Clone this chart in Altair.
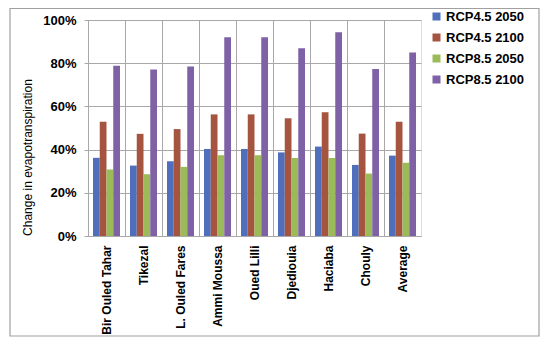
import altair as alt
import pandas as pd

categories = ["Bir Ouled Tahar", "Tikezal", "L. Ouled Fares", "Ammi Moussa",
              "Oued Lilli", "Djediouia", "Haciaba", "Chouly", "Average"]
series_names = ["RCP4.5 2050", "RCP4.5 2100", "RCP8.5 2050", "RCP8.5 2100"]
rcp45_2050 = [36.2, 32.6, 34.6, 40.3, 40.3, 38.7, 41.4, 32.9, 37.2]
rcp45_2100 = [52.9, 47.3, 49.5, 56.3, 56.3, 54.5, 57.3, 47.4, 52.9]
rcp85_2050 = [30.8, 28.6, 32.0, 37.4, 37.4, 36.1, 36.1, 28.9, 33.9]
rcp85_2100 = [78.8, 77.1, 78.5, 92.0, 92.0, 86.9, 94.3, 77.3, 85.0]
y_ticks = [0, 20, 40, 60, 80, 100]
colors = ["#4F6FBD", "#A5553F", "#9BBB59", "#7F62A6"]

rows = []
for s, vals in zip(series_names, [rcp45_2050, rcp45_2100, rcp85_2050, rcp85_2100]):
    for c, v in zip(categories, vals):
        rows.append({"site": c, "series": s, "value": v})
df = pd.DataFrame(rows)

FONT = "Liberation Sans"
GRID = "#a8a8a8"

bars = alt.Chart(df).mark_bar().encode(
    x=alt.X("site:N", sort=categories,
            scale=alt.Scale(paddingInner=0, paddingOuter=0),
            axis=alt.Axis(title=None, labelAngle=-90, labelAlign="right",
                          labelBaseline="middle", labelPadding=9, ticks=False,
                          grid=True, bandPosition=0, gridColor=GRID,
                          domainColor=GRID, labelFont=FONT, labelFontSize=12,
                          labelFontWeight="bold", labelColor="#000",
                          labelLimit=200)),
    xOffset=alt.XOffset("series:N", sort=series_names,
                        scale=alt.Scale(paddingOuter=0.74, paddingInner=0)),
    y=alt.Y("value:Q", scale=alt.Scale(domain=[0, 100]),
            axis=alt.Axis(title="Change in evapotranspiration", values=y_ticks,
                          labelExpr="datum.value + '%'", tickSize=4,
                          tickColor=GRID, domainColor=GRID, gridColor=GRID,
                          labelPadding=8, labelFont=FONT, labelFontSize=13,
                          labelFontWeight="bold", labelColor="#000",
                          titleFont=FONT, titleFontSize=12,
                          titleFontWeight="normal", titleColor="#000",
                          titleX=-61, titleY=137, titleAngle=-90,
                          titleAlign="center", titleBaseline="middle")),
    color=alt.Color("series:N", sort=series_names,
                    scale=alt.Scale(domain=series_names, range=colors),
                    legend=alt.Legend(title=None, orient="none", legendX=342,
                                      legendY=-10, symbolType="square",
                                      symbolSize=64, symbolStrokeWidth=0,
                                      labelFont=FONT, labelFontSize=13,
                                      labelFontWeight="bold", labelColor="#000",
                                      labelOffset=3, rowPadding=7)),
)

frame = alt.Chart(pd.DataFrame({"a": [0]})).mark_rect(
    fill=None, stroke="#a0a0a0", strokeWidth=1.2
).encode(
    x=alt.value(-78), x2=alt.value(451),
    y=alt.value(-11.5), y2=alt.value(316),
)

chart = alt.layer(bars, frame).properties(
    width=333, height=216,
    autosize=alt.AutoSizeParams(type="none"),
    padding={"left": 80, "top": 12, "right": 120, "bottom": 102},
).configure_view(stroke=GRID).configure(background="white")

chart.save("out.html", embed_options={"renderer": "svg", "actions": False})
